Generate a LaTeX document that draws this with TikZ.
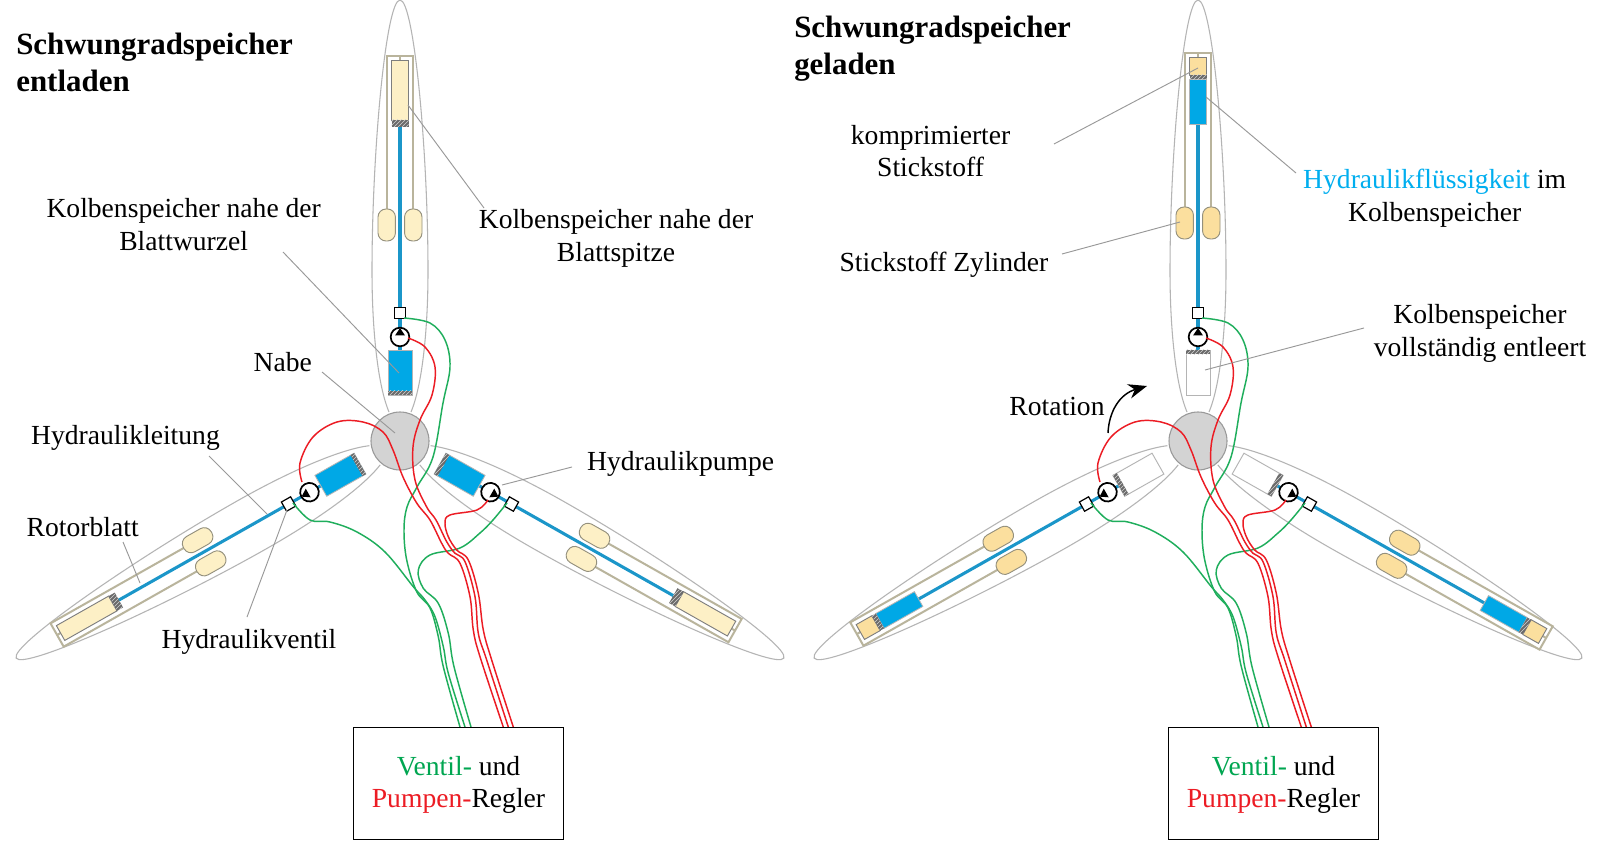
\documentclass[tikz,border=0pt]{standalone}
\usepackage{fontspec}
\usepackage{xcolor}
\setmainfont{Liberation Serif}
\usetikzlibrary{arrows.meta,patterns}
\definecolor{Outline}{HTML}{B4B4B4}
\definecolor{HubFill}{HTML}{D3D3D3}
\definecolor{Pipe}{HTML}{1B96C9}
\definecolor{Oil}{HTML}{00A8E6}
\definecolor{Rod}{HTML}{B9B49C}
\definecolor{GasLow}{HTML}{FDF0C6}
\definecolor{GasHigh}{HTML}{FBDF9E}
\definecolor{Hatch}{HTML}{6A6A6A}
\definecolor{WireRed}{HTML}{EC1C24}
\definecolor{WireGreen}{HTML}{1FAE5C}
\definecolor{TextGreen}{HTML}{00A651}
\definecolor{TextBlue}{HTML}{00AEEF}
\tikzset{
  lab/.style={font=\fontsize{20.7}{24.5}\selectfont, align=center, inner sep=0pt},
  headline/.style={font=\fontsize{23.2}{27.8}\selectfont\bfseries, align=left, inner sep=0pt, anchor=west},
  ctrlbox/.style={draw=black, line width=0.9pt, minimum width=158pt, minimum height=84pt, inner sep=0pt},
  leader/.style={draw=Outline!85!black, line width=0.7pt},
  redwire/.style={draw=WireRed, line width=1.1pt},
  greenwire/.style={draw=WireGreen, line width=1.1pt}
}
\newcommand{\bladebase}{
  \draw[Outline, line width=0.8pt] (-11,-29) .. controls (-22,-55) and (-28,-110) .. (-28,-170)
    .. controls (-28,-290) and (-14,-441) .. (0,-441)
    .. controls (14,-441) and (28,-290) .. (28,-170)
    .. controls (28,-110) and (22,-55) .. (11,-29);
  \draw[Pipe, line width=2.3pt] (0,-330) -- (0,-90);
  \draw[black, fill=white, line width=0.9pt] (-5.3,-133.3) rectangle (5.3,-122.7);
  \draw[black, fill=white, line width=1.3pt] (0,-104) circle[radius=9.3];
  \fill[black] (0,-113) -- (5,-105.5) -- (-5,-105.5) -- cycle;
}
\newcommand{\frameandcaps}[3]{
  \draw[Rod, line width=1.5pt] (-13.4,#2) -- (-13.4,#1) -- (13.4,#1) -- (13.4,#2);
  \draw[Rod, line width=1.5pt] (0,#1) -- (0,#1+4);
  \draw[Rod!80!black, fill=#3, line width=0.7pt, rounded corners=6pt] (-22,#2-1) rectangle (-4.6,#2+31);
  \draw[Rod!80!black, fill=#3, line width=0.7pt, rounded corners=6pt] (4.6,#2-1) rectangle (22,#2+31);
}
\newcommand{\hatchbar}[3]{
  \fill[Hatch] (-#1,#2) rectangle (#1,#3);
  \fill[pattern=north east lines, pattern color=white!70!Hatch] (-#1,#2) rectangle (#1,#3);
}
\newcommand{\bladeentladen}[2]{
  \begin{scope}[shift={(400,441)}, rotate=#1]
    \bladebase
    \begin{scope}[shift={(0,-#2)}]
      \frameandcaps{-385}{-231}{GasLow}
      \draw[Outline!70!black, fill=GasLow, line width=0.7pt] (-8.5,-381) rectangle (8.5,-321);
      \hatchbar{8.5}{-321}{-314}
    \end{scope}
    \draw[Outline, fill=Oil, line width=0.6pt] (-12,-91) rectangle (12,-46);
    \hatchbar{12}{-50}{-46}
  \end{scope}
}
\newcommand{\bladegeladen}[2]{
  \begin{scope}[shift={(400,441)}, rotate=#1]
    \bladebase
    \begin{scope}[shift={(0,-#2)}]
      \frameandcaps{-388}{-233}{GasHigh}
      \draw[Outline!70!black, fill=GasHigh, line width=0.7pt] (-8.5,-384) rectangle (8.5,-366);
      \draw[Outline, fill=Oil, line width=0.6pt] (-8.5,-361.5) rectangle (8.5,-317);
      \hatchbar{8.5}{-366}{-361.5}
    \end{scope}
    \draw[Outline, fill=white, line width=0.7pt] (-12,-91) rectangle (12,-46);
    \hatchbar{12}{-91}{-86.5}
  \end{scope}
}
\newcommand{\hubwires}{
  \draw[Outline!85!black, fill=HubFill, line width=0.8pt] (400,441) circle[radius=29];
  \draw[greenwire] plot[smooth, tension=0.6] coordinates {(404,318) (430,323) (445,340) (450,367) (443,403) (433,457) (417,487) (407,507) (404,530) (406.7,560) (416.7,591.7) (430,608) (438.3,636.7) (443.3,666.7) (460,727)};
  \draw[greenwire] plot[smooth, tension=0.6] coordinates {(293,503) (310,520) (330,522) (357,532) (385,552) (413.3,586.7) (425,600) (435,616.7) (443.3,646.7) (448.3,673.3) (465,727)};
  \draw[greenwire] plot[smooth, tension=0.6] coordinates {(507,503) (493,520) (480,533) (460,548) (430,555) (418.3,570) (423.3,588.3) (438.3,603.3) (448.3,633.3) (454,666.7) (471,727)};
  \draw[redwire] plot[smooth, tension=0.6] coordinates {(408,338) (425,347) (435,367) (432,395) (420,420) (413,447) (415,480) (426.7,507) (436,520) (446.7,541.7) (455,553.3) (465,561.7) (475,596.7) (478.3,633.3) (486.7,660) (508.3,727)};
  \draw[redwire] plot[smooth, tension=0.6] coordinates {(302,482) (300,463) (313,437) (337,422) (363,422) (383,432) (393,450) (403,477) (416.7,503) (430,520) (441.7,543.3) (448.3,553.3) (460,563.3) (470,596.7) (473.3,630) (480,656.7) (503.3,727)};
  \draw[redwire] plot[smooth, tension=0.6] coordinates {(488,500) (477,510) (450,515) (445,523) (448.3,536.7) (456.7,550) (468.3,560) (478.3,593.3) (483.3,630) (491.7,660) (513.3,727)};
}
\begin{document}
\begin{tikzpicture}[x=0.75pt, y=-0.75pt]
  \useasboundingbox (0,0) rectangle (1600,841);
  \fill[white] (0,0) rectangle (1600,841);
  \bladeentladen{0}{0}
  \bladeentladen{119.5}{9}
  \bladeentladen{-119.5}{0}
  \hubwires
  \begin{scope}[shift={(798,0)}]
    \bladegeladen{0}{0}
    \bladegeladen{119.5}{4}
    \bladegeladen{-119.5}{12}
    \hubwires
  \end{scope}
  \node[headline] (titleleft) at (16,62) {Schwungradspeicher\\entladen};
  \node[headline] (titleright) at (794,49) {Schwungradspeicher\\geladen};
  \node[lab] (rootlabel) at (183.7,224.5) {Kolbenspeicher nahe der\\Blattwurzel};
  \node[lab] (tiplabel) at (616,238.5) {Kolbenspeicher nahe der\\Blattspitze};
  \node[lab] (hublabel) at (282.7,362) {Nabe};
  \node[lab] (linelabel) at (125.5,437.7) {Hydraulikleitung};
  \node[lab] (pumplabel) at (680.6,464) {Hydraulikpumpe};
  \node[lab] (bladelabel) at (82.7,527.5) {Rotorblatt};
  \node[lab] (valvelabel) at (249,641.8) {Hydraulikventil};
  \node[lab] (gaslabel) at (930.6,151) {komprimierter\\Stickstoff};
  \node[lab] (oillabel) at (1434.7,198) {\textcolor{TextBlue}{Hydraulikflüssigkeit} im\\Kolbenspeicher};
  \node[lab] (cyllabel) at (944,265) {Stickstoff Zylinder};
  \node[lab] (emptylabel) at (1480,333.6) {Kolbenspeicher\\vollständig entleert};
  \node[lab] (rotlabel) at (1057,406.5) {Rotation};
  \node[ctrlbox] (ctrlleft) at (458.5,783.2) {};
  \node[ctrlbox] (ctrlright) at (1273.5,783.2) {};
  \node[lab] (ctrltextleft) at (458.5,785) {\textcolor{TextGreen}{Ventil-} und\\\textcolor{WireRed}{Pumpen-}Regler};
  \node[lab] (ctrltextright) at (1273.5,785) {\textcolor{TextGreen}{Ventil-} und\\\textcolor{WireRed}{Pumpen-}Regler};
  \coordinate (rootA) at (283,252); \coordinate (rootB) at (399,373);
  \coordinate (tipA) at (484,208); \coordinate (tipB) at (408,105);
  \coordinate (hubA) at (322,372); \coordinate (hubB) at (395,433);
  \coordinate (lineA) at (209,456); \coordinate (lineB) at (267,514);
  \coordinate (pumpA) at (572,467); \coordinate (pumpB) at (502,485);
  \coordinate (bladeA) at (123,542); \coordinate (bladeB) at (140,583);
  \coordinate (valveA) at (247,617); \coordinate (valveB) at (287,510);
  \coordinate (gasA) at (1054,144); \coordinate (gasB) at (1198,68);
  \coordinate (oilA) at (1296,173); \coordinate (oilB) at (1206,97);
  \coordinate (cylA) at (1062,254); \coordinate (cylB) at (1180,222);
  \coordinate (emptyA) at (1364,328); \coordinate (emptyB) at (1205,370);
  \draw[leader] (rootA) -- (rootB);
  \draw[leader] (tipA) -- (tipB);
  \draw[leader] (hubA) -- (hubB);
  \draw[leader] (lineA) -- (lineB);
  \draw[leader] (pumpA) -- (pumpB);
  \draw[leader] (bladeA) -- (bladeB);
  \draw[leader] (valveA) -- (valveB);
  \draw[leader] (gasA) -- (gasB);
  \draw[leader] (oilA) -- (oilB);
  \draw[leader] (cylA) -- (cylB);
  \draw[leader] (emptyA) -- (emptyB);
  \coordinate (rotA) at (1108,433);
  \coordinate (rotB) at (1147,386);
  \draw[black, line width=1.1pt, -{Stealth[length=14pt, width=11pt]}] (rotA) .. controls (1109,411) and (1120,394) .. (rotB);
\end{tikzpicture}
\end{document}
